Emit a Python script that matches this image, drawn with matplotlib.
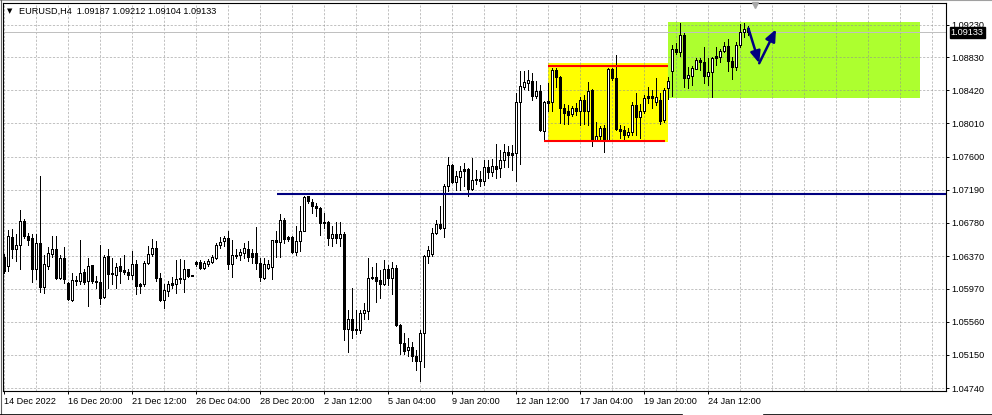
import numpy as np
import matplotlib
matplotlib.use("Agg")
import matplotlib.pyplot as plt
from matplotlib.patches import Rectangle
from matplotlib.transforms import blended_transform_factory

# EURUSD H4 candles (one entry per bar)
opens = [
    1.06362, 1.06247, 1.06609, 1.06453, 1.06510, 1.06810, 1.06625, 1.06596, 1.06206, 1.06527,
    1.05992, 1.06247, 1.06403, 1.06453, 1.06103, 1.06342, 1.06042, 1.05824, 1.06062, 1.06062,
    1.06177, 1.06062, 1.06255, 1.06050, 1.06054, 1.05865, 1.06370, 1.06153, 1.06132, 1.06247,
    1.06194, 1.06173, 1.06132, 1.06276, 1.06000, 1.06029, 1.06280, 1.06391, 1.06465, 1.06103,
    1.05828, 1.05939, 1.06017, 1.06021, 1.06083, 1.06083, 1.06206, 1.06132, 1.06268, 1.06296,
    1.06222, 1.06276, 1.06301, 1.06350, 1.06510, 1.06555, 1.06596, 1.06276, 1.06379, 1.06379,
    1.06411, 1.06461, 1.06411, 1.06411, 1.06288, 1.06099, 1.06222, 1.06235, 1.06547, 1.06547,
    1.06822, 1.06605, 1.06601, 1.06420, 1.06555, 1.06687, 1.07110, 1.07036, 1.06987, 1.06966,
    1.06790, 1.06790, 1.06589, 1.06646, 1.06589, 1.06638, 1.05466, 1.05598, 1.05458, 1.05458,
    1.05664, 1.05693, 1.06099, 1.06112, 1.06071, 1.06030, 1.06206, 1.06104, 1.06227, 1.05520,
    1.05302, 1.05212, 1.05253, 1.05138, 1.05076, 1.05425, 1.06371, 1.06391, 1.06658, 1.06773,
    1.06712, 1.07240, 1.07495, 1.07282, 1.07347, 1.07425, 1.07450, 1.07203, 1.07306, 1.07327,
    1.07294, 1.07471, 1.07405, 1.07487, 1.07454, 1.07553, 1.07656, 1.07614, 1.07643, 1.08280,
    1.08465, 1.08515, 1.08539, 1.08354, 1.08412, 1.07918, 1.08288, 1.08280, 1.08670, 1.08588,
    1.08198, 1.08157, 1.08124, 1.08198, 1.08157, 1.08301, 1.08157, 1.08424, 1.07807, 1.07857,
    1.07951, 1.07807, 1.08679, 1.08568, 1.07943, 1.07931, 1.07861, 1.07902, 1.08239, 1.08083,
    1.08157, 1.08321, 1.08350, 1.08272, 1.08301, 1.08046, 1.08444, 1.08662, 1.08925, 1.08896,
    1.09102, 1.08567, 1.08600, 1.08687, 1.08794, 1.08773, 1.08596, 1.08641, 1.08814, 1.08835,
    1.08909, 1.08966, 1.08785, 1.08703, 1.08974, 1.09135, 1.09187,
]
highs = [
    1.06391, 1.06699, 1.06707, 1.06650, 1.06946, 1.06831, 1.06658, 1.06638, 1.06650, 1.07357,
    1.06379, 1.06485, 1.06625, 1.06617, 1.06383, 1.06485, 1.06050, 1.06165, 1.06124, 1.06576,
    1.06206, 1.06350, 1.06264, 1.06124, 1.06514, 1.06379, 1.06453, 1.06350, 1.06280, 1.06350,
    1.06379, 1.06214, 1.06436, 1.06329, 1.06042, 1.06309, 1.06494, 1.06584, 1.06555, 1.06165,
    1.06021, 1.06062, 1.06116, 1.06329, 1.06338, 1.06321, 1.06214, 1.06136, 1.06309, 1.06321,
    1.06305, 1.06338, 1.06379, 1.06535, 1.06605, 1.06625, 1.06679, 1.06568, 1.06453, 1.06453,
    1.06527, 1.06555, 1.06453, 1.06732, 1.06350, 1.06350, 1.06329, 1.06576, 1.06679, 1.06892,
    1.06843, 1.06625, 1.06617, 1.06749, 1.06987, 1.07110, 1.07118, 1.07077, 1.07028, 1.06979,
    1.06905, 1.06810, 1.06741, 1.06790, 1.06790, 1.06667, 1.05705, 1.05972, 1.05705, 1.05701,
    1.05787, 1.06350, 1.06239, 1.06280, 1.06198, 1.06317, 1.06256, 1.06297, 1.06256, 1.05528,
    1.05425, 1.05364, 1.05310, 1.05212, 1.05458, 1.06379, 1.06494, 1.06720, 1.06823, 1.06995,
    1.07265, 1.07594, 1.07512, 1.07417, 1.07487, 1.07520, 1.07458, 1.07582, 1.07438, 1.07425,
    1.07561, 1.07561, 1.07569, 1.07758, 1.07676, 1.07758, 1.07725, 1.07746, 1.08383, 1.08662,
    1.08658, 1.08671, 1.08630, 1.08539, 1.08486, 1.08285, 1.08514, 1.08691, 1.08691, 1.08596,
    1.08251, 1.08239, 1.08227, 1.08259, 1.08342, 1.08362, 1.08527, 1.08432, 1.08033, 1.07980,
    1.07992, 1.08691, 1.08691, 1.08855, 1.07992, 1.07972, 1.07951, 1.08280, 1.08383, 1.08251,
    1.08362, 1.08457, 1.08424, 1.08568, 1.08383, 1.08444, 1.08588, 1.08978, 1.08999, 1.09246,
    1.09122, 1.08711, 1.08720, 1.08814, 1.08814, 1.08958, 1.08814, 1.08835, 1.08950, 1.08925,
    1.09015, 1.09048, 1.08835, 1.09020, 1.09237, 1.09246, 1.09212,
]
lows = [
    1.06165, 1.06185, 1.06350, 1.06309, 1.06206, 1.06596, 1.06514, 1.06050, 1.06083, 1.05927,
    1.05910, 1.06206, 1.06362, 1.06083, 1.06083, 1.06042, 1.05828, 1.05816, 1.06009, 1.06021,
    1.06021, 1.05754, 1.06042, 1.05980, 1.05774, 1.05857, 1.05980, 1.06021, 1.05980, 1.06042,
    1.06144, 1.06083, 1.06091, 1.05898, 1.05918, 1.06000, 1.06268, 1.06370, 1.06062, 1.05816,
    1.05733, 1.05877, 1.05980, 1.05918, 1.06033, 1.05927, 1.06116, 1.06124, 1.06247, 1.06206,
    1.06206, 1.06247, 1.06288, 1.06338, 1.06473, 1.06494, 1.06206, 1.06116, 1.06350, 1.06329,
    1.06350, 1.06309, 1.06280, 1.06206, 1.06062, 1.06091, 1.06206, 1.06091, 1.06362, 1.06362,
    1.06535, 1.06555, 1.06411, 1.06383, 1.06432, 1.06679, 1.07028, 1.06905, 1.06864, 1.06629,
    1.06720, 1.06514, 1.06502, 1.06527, 1.06494, 1.05331, 1.05187, 1.05364, 1.05405, 1.05417,
    1.05598, 1.05590, 1.06083, 1.05804, 1.05857, 1.06009, 1.06009, 1.05898, 1.05508, 1.05158,
    1.05158, 1.05138, 1.05076, 1.04965, 1.04829, 1.05006, 1.06289, 1.06371, 1.06650, 1.06700,
    1.06609, 1.07179, 1.07273, 1.07191, 1.07191, 1.07232, 1.07109, 1.07191, 1.07265, 1.07240,
    1.07253, 1.07335, 1.07355, 1.07335, 1.07347, 1.07471, 1.07471, 1.07429, 1.07294, 1.07512,
    1.08432, 1.08424, 1.08293, 1.08321, 1.07910, 1.07799, 1.08157, 1.08157, 1.08465, 1.08013,
    1.08005, 1.08005, 1.08103, 1.08116, 1.07992, 1.08005, 1.07992, 1.07737, 1.07787, 1.07787,
    1.07651, 1.07787, 1.08547, 1.07931, 1.07828, 1.07820, 1.07840, 1.07869, 1.07869, 1.07828,
    1.08136, 1.08259, 1.08198, 1.08239, 1.08005, 1.08033, 1.08309, 1.08350, 1.08867, 1.08843,
    1.08465, 1.08444, 1.08485, 1.08678, 1.08670, 1.08506, 1.08485, 1.08333, 1.08732, 1.08773,
    1.08888, 1.08662, 1.08555, 1.08670, 1.08958, 1.09081, 1.09104,
]
closes = [
    1.06185, 1.06625, 1.06453, 1.06510, 1.06810, 1.06617, 1.06576, 1.06206, 1.06527, 1.05992,
    1.06268, 1.06411, 1.06453, 1.06103, 1.06342, 1.06083, 1.05836, 1.06070, 1.06070, 1.06165,
    1.06050, 1.06247, 1.06062, 1.06062, 1.05857, 1.06362, 1.06153, 1.06144, 1.06235, 1.06185,
    1.06173, 1.06132, 1.06276, 1.06000, 1.06029, 1.06288, 1.06399, 1.06465, 1.06103, 1.05828,
    1.05947, 1.06021, 1.06033, 1.06091, 1.06099, 1.06206, 1.06124, 1.06128, 1.06296, 1.06222,
    1.06288, 1.06309, 1.06354, 1.06514, 1.06551, 1.06596, 1.06276, 1.06379, 1.06375, 1.06420,
    1.06465, 1.06362, 1.06362, 1.06288, 1.06111, 1.06276, 1.06276, 1.06564, 1.06564, 1.06822,
    1.06588, 1.06584, 1.06424, 1.06555, 1.06687, 1.07102, 1.07057, 1.06987, 1.06966, 1.06781,
    1.06781, 1.06596, 1.06646, 1.06589, 1.06638, 1.05466, 1.05598, 1.05458, 1.05466, 1.05672,
    1.05701, 1.06104, 1.06108, 1.06063, 1.06030, 1.06206, 1.06104, 1.06227, 1.05516, 1.05302,
    1.05199, 1.05249, 1.05138, 1.05076, 1.05425, 1.06371, 1.06441, 1.06658, 1.06773, 1.06712,
    1.07242, 1.07495, 1.07282, 1.07355, 1.07425, 1.07450, 1.07203, 1.07314, 1.07327, 1.07298,
    1.07471, 1.07409, 1.07487, 1.07450, 1.07561, 1.07656, 1.07619, 1.07643, 1.08272, 1.08473,
    1.08519, 1.08547, 1.08354, 1.08412, 1.07923, 1.08280, 1.08268, 1.08670, 1.08588, 1.08198,
    1.08144, 1.08116, 1.08198, 1.08157, 1.08301, 1.08157, 1.08411, 1.07807, 1.07857, 1.07951,
    1.07807, 1.08679, 1.08568, 1.07943, 1.07910, 1.07869, 1.07902, 1.08239, 1.08083, 1.08157,
    1.08329, 1.08350, 1.08329, 1.08342, 1.08042, 1.08424, 1.08539, 1.08925, 1.08896, 1.09102,
    1.08567, 1.08604, 1.08691, 1.08794, 1.08765, 1.08596, 1.08646, 1.08814, 1.08843, 1.08909,
    1.08966, 1.08785, 1.08703, 1.08974, 1.09135, 1.09172, 1.09133,
]

x_labels = ['14 Dec 2022', '16 Dec 20:00', '21 Dec 12:00', '26 Dec 04:00', '28 Dec 20:00',
            '2 Jan 12:00', '5 Jan 04:00', '9 Jan 20:00', '12 Jan 12:00', '17 Jan 04:00',
            '19 Jan 20:00', '24 Jan 12:00']
price_ticks = [1.09230, 1.08830, 1.08420, 1.08010, 1.07600, 1.07190,
               1.06780, 1.06370, 1.05970, 1.05560, 1.05150, 1.04740]
header = "EURUSD,H4  1.09187 1.09212 1.09104 1.09133"
bid = 1.09133

# drawn objects (bar index / price)
support_level = 1.07134
support_start = 68.25
range_box = (136, 166, 1.07775, 1.08753)      # yellow: x0, x1, low, high
range_top = (136, 166, 1.08724)
range_bottom = (135, 165.25, 1.07796)
target_box = (166, 229, 1.08326, 1.09262)     # green
arrow_pts = [(186.1, 1.09184), (188.8, 1.08753), (193.0, 1.09172)]

W, H = 992, 415
fig = plt.figure(figsize=(W / 100, H / 100), dpi=100)
fig.patch.set_facecolor('white')
ax = fig.add_axes([3 / W, 24 / H, 943 / W, 388 / H])

ymin, ymax = 1.04705, 1.09497
ax.set_xlim(-0.25, 235.5)
ax.set_ylim(ymin, ymax)
px = (ymax - ymin) / 388.0   # one pixel in price units
PT = 0.72                    # one pixel in points

o = np.array(opens)
c = np.array(closes)
hi = np.array(highs)
lo = np.array(lows)
x = np.arange(len(o))
up = c >= o

# background objects
ax.add_patch(Rectangle((range_box[0], range_box[2]), range_box[1] - range_box[0],
                       range_box[3] - range_box[2], facecolor='#FFFF00', edgecolor='none', zorder=0.5))
ax.add_patch(Rectangle((target_box[0], target_box[2]), target_box[1] - target_box[0],
                       target_box[3] - target_box[2], facecolor='#ADFF2F', edgecolor='none', zorder=0.5))

# grid
grid_kw = dict(color='#909090', alpha=0.55, lw=PT, linestyle=(0, (2.2, 1.6)), zorder=1)
for p in price_ticks:
    ax.axhline(p, **grid_kw)
for gx in range(0, 236, 8):
    ax.axvline(gx, **grid_kw)

# bid line
ax.axhline(bid, color='#C0C0C0', lw=PT, zorder=1.5)

# candles: wick, 3px black body, 1px white core for up bars
body_lo = np.minimum(o, c)
body_hi = np.maximum(np.maximum(o, c), body_lo + px)
ax.vlines(x, lo, hi, color='black', lw=PT, zorder=2, antialiased=False)
bodies = ax.vlines(x, body_lo, body_hi, color='black', lw=3 * PT, zorder=3, antialiased=False)
bodies.set_capstyle('butt')
hollow = up & (body_hi - body_lo > 2.5 * px)
cores = ax.vlines(x[hollow], body_lo[hollow] + px, body_hi[hollow] - px, color='white',
                  lw=PT, zorder=3.5, antialiased=False)
cores.set_capstyle('butt')

# lines on top
ax.hlines(support_level, support_start, 235.5, color='#000080', lw=1.5, zorder=4)
ax.hlines(range_top[2], range_top[0], range_top[1], color='#FF0000', lw=1.5, zorder=4)
ax.hlines(range_bottom[2], range_bottom[0], range_bottom[1], color='#FF0000', lw=1.5, zorder=4)
for a, b in zip(arrow_pts[:-1], arrow_pts[1:]):
    ax.annotate('', xy=b, xytext=a,
                arrowprops=dict(arrowstyle='-|>,head_length=0.7,head_width=0.3',
                                color='#000080', lw=1.8, shrinkA=0, shrinkB=0,
                                mutation_scale=10), zorder=5)

# axes styling
for s in ax.spines.values():
    s.set_color('black')
    s.set_linewidth(0.8)
font = dict(family='Liberation Sans', size=6.6)
ax.yaxis.tick_right()
ax.set_yticks(price_ticks)
ax.set_yticklabels([f"{p:.5f}" for p in price_ticks], **font)
ax.tick_params(axis='y', direction='out', length=2.2, width=0.7, pad=1.3, colors='black')
ax.set_xticks(range(0, 16 * len(x_labels), 16))
ax.set_xticklabels(x_labels, ha='left', **font)
ax.tick_params(axis='x', direction='out', length=2.2, width=0.7, pad=2.0, colors='black')

# bid label box
tr = blended_transform_factory(ax.transAxes, ax.transData)
ax.text(1.005, bid, f"{bid:.5f}", transform=tr, ha='left', va='center', color='white',
        fontsize=6.6, family='Liberation Sans', zorder=6,
        bbox=dict(boxstyle='square,pad=0.12', fc='black', ec='black'))

# header
fig.text(7 / W, 1 - 11 / H, '\u25bc', fontsize=5, family='DejaVu Sans', va='center', ha='left')
fig.text(19 / W, 1 - 11 / H, header, va='center', ha='left', **font)
# chart shift marker
fig.lines.append(plt.Line2D([755 / W], [1 - 5 / H], marker='v', markersize=5,
                            color='#A8A8A8', transform=fig.transFigure))
# window frame bits
fig.lines.append(plt.Line2D([0, 1], [1 - 0.5 / H, 1 - 0.5 / H], color='#A0A0A0', lw=0.8,
                            transform=fig.transFigure))
fig.lines.append(plt.Line2D([0.5 / W, 0.5 / W], [0, 1], color='#606060', lw=0.8,
                            transform=fig.transFigure))
fig.lines.append(plt.Line2D([0, 682 / W], [0.5 / H, 0.5 / H], color='black', lw=1.2,
                            transform=fig.transFigure))
fig.lines.append(plt.Line2D([764 / W, 1], [0.5 / H, 0.5 / H], color='black', lw=1.2,
                            transform=fig.transFigure))

fig.savefig('out.png', dpi=100)
